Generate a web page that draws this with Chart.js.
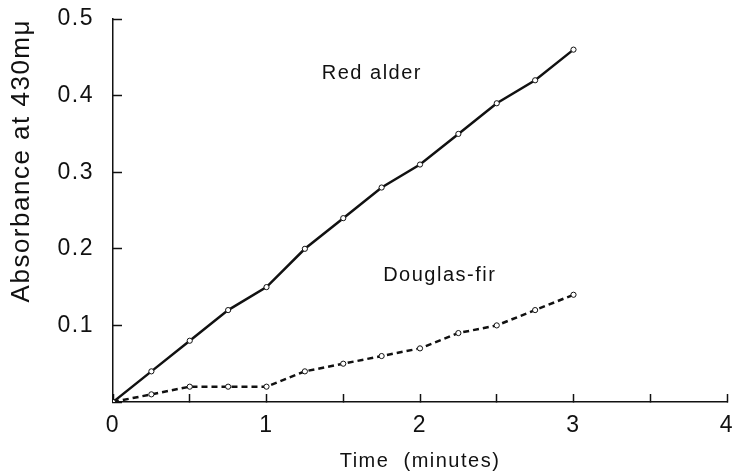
<!DOCTYPE html>
<html>
<head>
<meta charset="utf-8">
<title>Absorbance at 430mμ</title>
<script src="https://cdn.jsdelivr.net/npm/chart.js@4.4.1/dist/chart.umd.min.js"></script>
<style>
    body { margin: 0; background: #fff; }
    #wrap { width: 732px; height: 475px; position: relative; }
</style>
</head>
<body>
<div id="wrap"><canvas id="absorbance-chart"></canvas></div>
<script>
// Time of the readings (minutes)
const times = [0, 0.25, 0.5, 0.75, 1, 1.25, 1.5, 1.75, 2, 2.25, 2.5, 2.75, 3];

// Absorbance readings for both woods
const redAlder   = [0, 0.04, 0.08, 0.12, 0.15, 0.20, 0.24, 0.28, 0.31, 0.35, 0.39, 0.42, 0.46];
const douglasFir = [0, 0.01, 0.02, 0.02, 0.02, 0.04, 0.05, 0.06, 0.07, 0.09, 0.10, 0.12, 0.14];

// Tick values on the axes
const xTicks = [0, 1, 2, 3, 4];
const yTicks = [0.1, 0.2, 0.3, 0.4, 0.5];

// Series names, written next to the curves
const seriesNames = ['Red alder', 'Douglas-fir'];

const ink = '#111';
const fontFamily = '"Liberation Sans", Arial, sans-serif';

// Where the curve names are placed (data units)
const nameAnchors = [{ x: 1.36, y: 0.422 }, { x: 1.76, y: 0.158 }];

function toPoints(values) {
    return values.map((v, i) => ({ x: times[i], y: v }));
}

// The scan has slightly spaced letters
const spacingPlugin = {
    id: 'spacing',
    beforeLayout(chart) { chart.ctx.letterSpacing = '1.5px'; },
    beforeDraw(chart) { chart.ctx.letterSpacing = '1.5px'; }
};

// Names written straight onto the plot, at positions given by the scales
const namesPlugin = {
    id: 'names',
    afterDatasetsDraw(chart) {
        const ctx = chart.ctx;
        const x = chart.scales.x;
        const y = chart.scales.y;
        ctx.save();
        ctx.font = '20px ' + fontFamily;
        ctx.fillStyle = ink;
        ctx.textAlign = 'left';
        ctx.textBaseline = 'alphabetic';
        seriesNames.forEach((name, i) => {
            ctx.fillText(name, x.getPixelForValue(nameAnchors[i].x), y.getPixelForValue(nameAnchors[i].y));
        });
        ctx.restore();
    }
};

const canvas = document.getElementById('absorbance-chart');

new Chart(canvas, {
    type: 'line',
    data: {
        datasets: [{
            label: seriesNames[0],
            data: toPoints(redAlder),
            borderColor: ink,
            borderWidth: 2.5,
            pointRadius: 2.6,
            pointBorderWidth: 1,
            pointBackgroundColor: '#fff',
            pointBorderColor: ink,
            tension: 0
        }, {
            label: seriesNames[1],
            data: toPoints(douglasFir),
            borderColor: ink,
            borderWidth: 2.5,
            borderDash: [6, 4],
            pointRadius: 2.6,
            pointBorderWidth: 1,
            pointBackgroundColor: '#fff',
            pointBorderColor: ink,
            tension: 0
        }]
    },
    options: {
        responsive: true,
        maintainAspectRatio: false,
        animation: false,
        layout: { padding: { top: 19, right: 5, left: 0, bottom: 0 } },
        scales: {
            x: {
                type: 'linear',
                min: 0,
                max: 4,
                ticks: {
                    stepSize: 0.5,
                    color: ink,
                    padding: 18,
                    maxRotation: 0,
                    autoSkip: false,
                    font: { family: fontFamily, size: 23 },
                    // Labels only on whole minutes, small ticks in between
                    callback: v => xTicks.includes(v) ? String(v) : ''
                },
                grid: {
                    drawOnChartArea: false,
                    drawTicks: true,
                    tickLength: -8,
                    tickColor: ink,
                    tickWidth: 1.5
                },
                border: { color: ink, width: 1.5 },
                title: {
                    display: true,
                    text: 'Time  (minutes)',
                    color: ink,
                    font: { family: fontFamily, size: 20 },
                    padding: { top: 0, bottom: 2 }
                },
                afterFit(scale) {
                    scale.height = 73;
                    scale.paddingLeft = 0;
                    scale.paddingRight = 0;
                }
            },
            y: {
                min: 0,
                max: 0.5,
                ticks: {
                    stepSize: 0.1,
                    color: ink,
                    padding: 28,
                    font: { family: fontFamily, size: 23 },
                    // No label at zero, it sits on the time axis
                    callback: v => {
                        const label = Number(v).toFixed(1);
                        return yTicks.some(t => t.toFixed(1) === label) ? label : '';
                    }
                },
                grid: {
                    drawOnChartArea: false,
                    drawTicks: true,
                    tickLength: -9,
                    tickColor: ink,
                    tickWidth: 1.5
                },
                border: { color: ink, width: 1.5 },
                title: {
                    display: true,
                    text: 'Absorbance at 430mμ',
                    color: ink,
                    align: 'end',
                    font: { family: fontFamily, size: 26 },
                    padding: { top: 6, bottom: 0 }
                },
                afterFit(scale) {
                    scale.width = 113;
                    // the tick padding would otherwise push the plot down
                    scale.paddingTop = 0;
                    scale.paddingBottom = 0;
                }
            }
        },
        plugins: {
            legend: { display: false },
            tooltip: { enabled: false }
        }
    },
    plugins: [spacingPlugin, namesPlugin]
});
</script>
</body>
</html>
